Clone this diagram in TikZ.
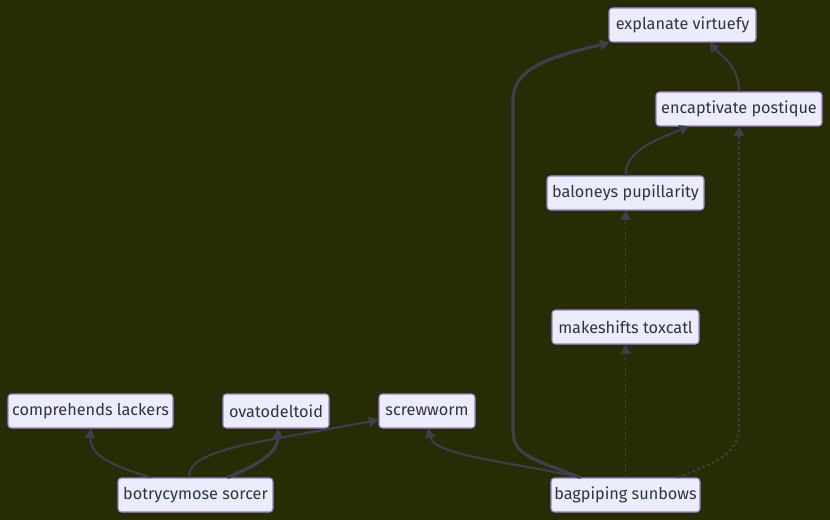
\documentclass[tikz,border=0pt]{standalone}
\usepackage{fontspec}
\setmainfont{Fira Sans}
\usetikzlibrary{arrows.meta,calc}
\definecolor{bgc}{RGB}{40,44,4}
\definecolor{nodefill}{RGB}{236,236,255}
\definecolor{nodeborder}{RGB}{150,125,205}
\definecolor{textc}{RGB}{51,51,60}
\definecolor{edgec}{RGB}{64,62,78}
\begin{document}
\begin{tikzpicture}[x=0.75pt,y=-0.75pt,
  box/.style={draw=nodeborder, fill=nodefill, rounded corners=2.5pt, line width=0.8pt,
    minimum height=25.5pt, inner sep=0pt, text=textc, font=\fontsize{12.2}{14}\selectfont},
  edge/.style={draw=edgec, line width=1.5pt, -{Triangle[length=7pt,width=7.5pt]}},
  thickedge/.style={edge, line width=2.4pt},
  dottededge/.style={edge, line width=1.4pt, dash pattern=on 2pt off 2pt}]
\fill[bgc] (0,0) rectangle (830,520);
\useasboundingbox (0,0) rectangle (830,520);

\node[box, minimum width=110.25pt] (exp) at (682.5,25) {explanate virtuefy};
\node[box, minimum width=124.5pt] (enc) at (739,109) {encaptivate postique};
\node[box, minimum width=117.75pt] (bal) at (625.5,193) {baloneys pupillarity};
\node[box, minimum width=110.25pt] (mak) at (625.5,327) {makeshifts toxcatl};
\node[box, minimum width=111.75pt] (bag) at (625.5,495) {bagpiping sunbows};
\node[box, minimum width=123.75pt] (com) at (90.5,411) {comprehends lackers};
\node[box, minimum width=79.5pt] (ova) at (276,411) {ovatodeltoid};
\node[box, minimum width=72pt] (scr) at (427,411) {screwworm};
\node[box, minimum width=116.25pt] (bot) at (195.5,495) {botrycymose sorcer};

% botrycymose edges
\draw[edge] ($(bot.north)+(-45,0)$) .. controls (110,465) and (90,455) .. (com.south);
\draw[thickedge] ($(bot.north)+(32,0)$) .. controls (265,462) and (278,450) .. ($(ova.south)+(2,0)$);
\draw[edge] ($(bot.north)+(-6,0)$) .. controls (185,455) and (240,445) .. (290,436) -- ($(scr.west)+(0,9)$);

% bagpiping edges
\draw[edge] ($(bag.north)+(-45,0)$) .. controls (500,460) and (435,455) .. ($(scr.south)+(1,0)$);
\draw[thickedge] ($(bag.north)+(-45,0)$) .. controls (530,458) and (513,455) .. (513,430) -- (513,100) .. controls (513,65) and (560,55) .. ($(exp.south west)+(1,0)$);
\draw[dottededge] (bag.north) -- (mak.south);
\draw[dottededge] (mak.north) -- (bal.south);
\draw[dottededge] ($(bag.north)+(52,0)$) .. controls (725,460) and (739,450) .. (739,425) -- (enc.south);

% upper edges
\draw[edge] (bal.north) .. controls (625,150) and (660,138) .. ($(enc.south)+(-50,0)$);
\draw[edge] (enc.north) .. controls (739,65) and (720,55) .. ($(exp.south)+(27,0)$);
\end{tikzpicture}
\end{document}
